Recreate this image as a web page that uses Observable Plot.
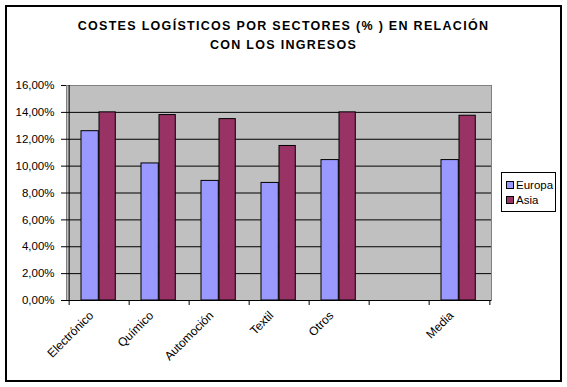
<!DOCTYPE html>
<html>
<head>
<meta charset="utf-8">
<script src="https://cdn.jsdelivr.net/npm/d3@7"></script>
<script src="https://cdn.jsdelivr.net/npm/@observablehq/plot@0.6"></script>
<style>
  html, body { margin: 0; padding: 0; background: #fff; }
  #wrap { position: relative; width: 567px; height: 387px; font-family: "Liberation Sans", Arial, sans-serif; }
  #border { position: absolute; left: 5px; top: 5px; width: 553px; height: 373px; border: 2px solid #000; }
  #title { position: absolute; left: 0; width: 567px; top: 17px; text-align: center; font-weight: bold; font-size: 12.5px; letter-spacing: 1.3px; line-height: 19px; color: #000; }
  #chart { position: absolute; left: 0; top: 70px; }
  #legend { position: absolute; left: 501px; top: 172px; width: 53px; height: 38px; border: 1px solid #000; background: #fff; font-size: 11.5px; }
  .item { position: absolute; left: 4px; height: 14px; line-height: 14px; }
  .sw { display: inline-block; width: 6px; height: 6px; border: 1px solid #000; margin-right: 2px; vertical-align: 0px; }
</style>
</head>
<body>
<div id="wrap">
  <div id="border"></div>
  <div id="title">COSTES LOGÍSTICOS POR SECTORES (% ) EN RELACIÓN<br>CON LOS INGRESOS</div>
  <div id="chart"></div>
  <div id="legend"></div>
</div>
<script>
const categories = ["Electrónico", "Químico", "Automoción", "Textil", "Otros", " ", "Media"];
const europa = [12.6, 10.2, 8.9, 8.75, 10.45, null, 10.45];
const asia = [14.0, 13.8, 13.5, 11.5, 14.0, null, 13.75];
const series = ["Europa", "Asia"];
const colors = ["#9999FF", "#993366"];
const yTicks = [0, 2, 4, 6, 8, 10, 12, 14, 16];

const data = [];
categories.forEach((c, i) => {
  if (europa[i] != null) data.push({category: c, series: "Europa", value: europa[i]});
  if (asia[i] != null) data.push({category: c, series: "Asia", value: asia[i]});
});

const W = 567, H = 310, mL = 66, mR = 76, mT = 15, mB = 80;
const bw = (W - mL - mR) / categories.length;
const fmt = d => d.toFixed(2).replace(".", ",") + "%";

const plot = Plot.plot({
  width: W, height: H,
  marginLeft: mL, marginRight: mR, marginTop: mT, marginBottom: mB,
  style: {fontFamily: "Liberation Sans, Arial, sans-serif", fontSize: "11.5px", color: "#000", background: "transparent", overflow: "visible"},
  x: {domain: categories, padding: 0, label: null},
  y: {domain: [0, 16], label: null},
  color: {domain: series, range: colors},
  marks: [
    Plot.frame({fill: "#C0C0C0", stroke: "#808080"}),
    Plot.ruleY(yTicks.filter(d => d > 0 && d < 16), {stroke: "#000", strokeWidth: 1}),
    Plot.barY(data.filter(d => d.series === "Europa"), {x: "category", y: "value", fill: "series", stroke: "#000", strokeWidth: 1, insetLeft: 12, insetRight: bw - 30}),
    Plot.barY(data.filter(d => d.series === "Asia"), {x: "category", y: "value", fill: "series", stroke: "#000", strokeWidth: 1, insetLeft: 30, insetRight: bw - 47}),
    Plot.ruleX([0], {x: () => categories[0], dx: -bw / 2, stroke: "#000"}),
    Plot.ruleY([0], {stroke: "#000"}),
    // boundary ticks on the category axis
    Plot.ruleX(categories, {x: d => d, y1: 0, y2: 0, insetBottom: -5, dx: -bw / 2, stroke: "#000"}),
    Plot.ruleX([categories[categories.length - 1]], {x: d => d, y1: 0, y2: 0, insetBottom: -5, dx: bw / 2, stroke: "#000"}),
    Plot.axisY({ticks: yTicks, tickFormat: fmt, tickSize: 5, tickPadding: 7, fontSize: 11.5}),
    Plot.axisX({tickSize: 0, tickRotate: -45, tickPadding: 13, dx: -8, fontSize: 12})
  ]
});
document.getElementById("chart").appendChild(plot);

const legend = document.getElementById("legend");
series.forEach((s, i) => {
  const it = document.createElement("div");
  it.className = "item";
  it.style.top = (5 + i * 15) + "px";
  it.innerHTML = `<span class="sw" style="background:${colors[i]}"></span>${s}`;
  legend.appendChild(it);
});
</script>
</body>
</html>
